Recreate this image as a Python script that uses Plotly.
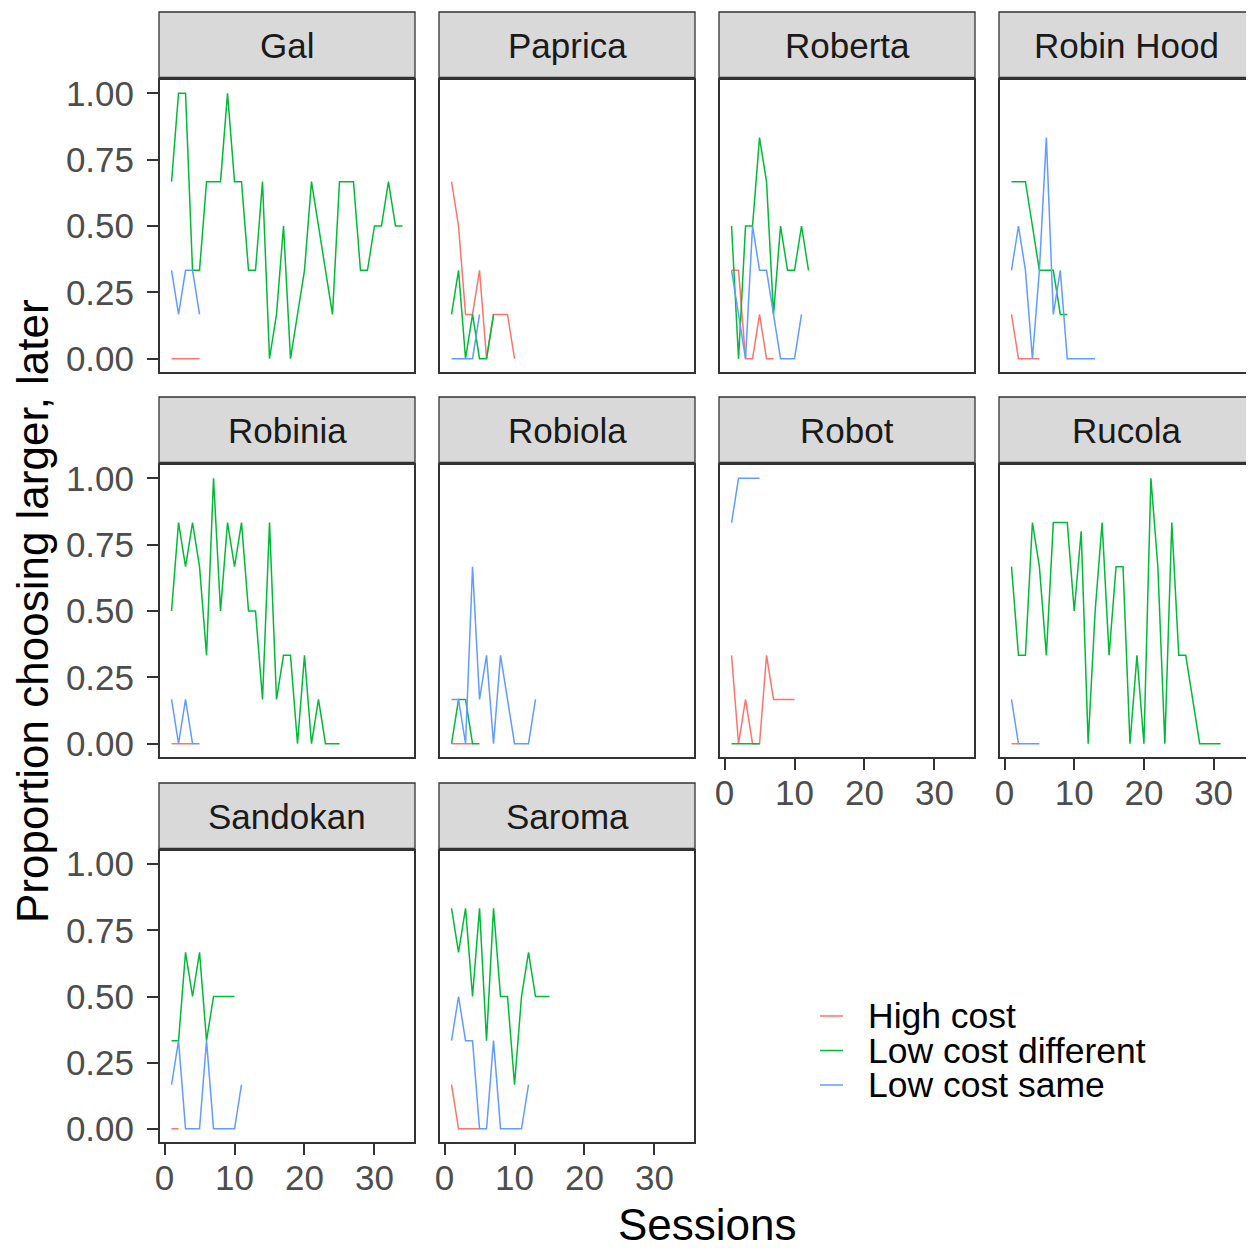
import plotly.graph_objects as go

# ---------------- data ----------------
SESSIONS = [1, 2, 3, 4, 5, 6, 7, 8, 9, 10, 11, 12, 13, 14, 15, 16, 17,
            18, 19, 20, 21, 22, 23, 24, 25, 26, 27, 28, 29, 30, 31, 32, 33, 34]

SUBJECTS = ["Gal", "Paprica", "Roberta", "Robin Hood", "Robinia",
            "Robiola", "Robot", "Rucola", "Sandokan", "Saroma"]
CONDITIONS = ["High cost", "Low cost different", "Low cost same"]
COLORS = ["#F8766D", "#00BA38", "#619CFF"]
X_TICKS = [0, 10, 20, 30]
Y_TICKS = [0.0, 0.25, 0.5, 0.75, 1.0]
Y_TICK_TEXT = ["0.00", "0.25", "0.50", "0.75", "1.00"]

gal_high = [0, 0, 0, 0, 0]
gal_diff = [0.667, 1, 1, 0.333, 0.333, 0.667, 0.667, 0.667, 1, 0.667, 0.667,
            0.333, 0.333, 0.667, 0, 0.167, 0.5, 0, 0.167, 0.333, 0.667, 0.5,
            0.333, 0.167, 0.667, 0.667, 0.667, 0.333, 0.333, 0.5, 0.5, 0.667,
            0.5, 0.5]
gal_same = [0.333, 0.167, 0.333, 0.333, 0.167]

paprica_high = [0.667, 0.5, 0.167, 0.167, 0.333, 0, 0.167, 0.167, 0.167, 0]
paprica_diff = [0.167, 0.333, 0, 0.167, 0, 0, 0.167]
paprica_same = [0, 0, 0, 0, 0.167]

roberta_high = [0.333, 0.333, 0, 0, 0.167, 0, 0]
roberta_diff = [0.5, 0, 0.5, 0.5, 0.833, 0.667, 0.167, 0.5, 0.333, 0.333,
                0.5, 0.333]
roberta_same = [0.333, 0.167, 0, 0.5, 0.333, 0.333, 0.167, 0, 0, 0, 0.167]

robinhood_high = [0.167, 0, 0, 0, 0]
robinhood_diff = [0.667, 0.667, 0.667, 0.5, 0.333, 0.333, 0.333, 0.167, 0.167]
robinhood_same = [0.333, 0.5, 0.333, 0, 0.333, 0.833, 0.167, 0.333, 0, 0, 0,
                  0, 0]

robinia_high = [0, 0, 0, 0]
robinia_diff = [0.5, 0.833, 0.667, 0.833, 0.667, 0.333, 1, 0.5, 0.833, 0.667,
                0.833, 0.5, 0.5, 0.167, 0.833, 0.167, 0.333, 0.333, 0, 0.333,
                0, 0.167, 0, 0, 0]
robinia_same = [0.167, 0, 0.167, 0, 0]

robiola_high = [0, 0, 0, 0]
robiola_diff = [0, 0.167, 0.167, 0, 0]
robiola_same = [0.167, 0.167, 0, 0.667, 0.167, 0.333, 0, 0.333, 0.167, 0, 0,
                0, 0.167]

robot_high = [0.333, 0, 0.167, 0, 0, 0.333, 0.167, 0.167, 0.167, 0.167]
robot_diff = [0, 0, 0, 0, 0]
robot_same = [0.833, 1, 1, 1, 1]

rucola_high = [0, 0]
rucola_diff = [0.667, 0.333, 0.333, 0.833, 0.667, 0.333, 0.833, 0.833, 0.833,
               0.5, 0.8, 0, 0.5, 0.833, 0.333, 0.667, 0.667, 0, 0.333, 0, 1,
               0.667, 0, 0.833, 0.333, 0.333, 0.167, 0, 0, 0, 0]
rucola_same = [0.167, 0, 0, 0, 0]

sandokan_high = [0, 0]
sandokan_diff = [0.333, 0.333, 0.667, 0.5, 0.667, 0.333, 0.5, 0.5, 0.5, 0.5]
sandokan_same = [0.167, 0.333, 0, 0, 0, 0.333, 0, 0, 0, 0, 0.167]

saroma_high = [0.167, 0, 0, 0, 0]
saroma_diff = [0.833, 0.667, 0.833, 0.5, 0.833, 0.333, 0.833, 0.5, 0.5, 0.167,
               0.5, 0.667, 0.5, 0.5, 0.5]
saroma_same = [0.333, 0.5, 0.333, 0.333, 0, 0, 0.333, 0, 0, 0, 0, 0.167]

SERIES = {
    "Gal": [gal_high, gal_diff, gal_same],
    "Paprica": [paprica_high, paprica_diff, paprica_same],
    "Roberta": [roberta_high, roberta_diff, roberta_same],
    "Robin Hood": [robinhood_high, robinhood_diff, robinhood_same],
    "Robinia": [robinia_high, robinia_diff, robinia_same],
    "Robiola": [robiola_high, robiola_diff, robiola_same],
    "Robot": [robot_high, robot_diff, robot_same],
    "Rucola": [rucola_high, rucola_diff, rucola_same],
    "Sandokan": [sandokan_high, sandokan_diff, sandokan_same],
    "Saroma": [saroma_high, saroma_diff, saroma_same],
}

# ---------------- layout geometry (page pixels) ----------------
OFF = 8                      # default body margin of the html page
FW, FH = 1254 - OFF, 1248 - 2 * OFF
COL_X = [(160, 414), (440, 694), (720, 974), (1000, 1253)]
ROW_Y = [(80, 372), (465, 757), (851, 1142)]
STRIP_H = 67
FONT = "Liberation Sans, Arial, Helvetica, sans-serif"
DARK = "#333333"


def px(x):
    return (x - OFF) / FW


def py(y):
    return 1 - (y - OFF) / FH


fig = go.Figure()
shapes = []
annotations = []

for i, subj in enumerate(SUBJECTS):
    r, c = divmod(i, 4)
    xa = "x" if i == 0 else f"x{i + 1}"
    ya = "y" if i == 0 else f"y{i + 1}"
    for k, cond in enumerate(CONDITIONS):
        vals = SERIES[subj][k]
        fig.add_trace(go.Scatter(
            x=SESSIONS[:len(vals)], y=vals, mode="lines",
            line=dict(color=COLORS[k], width=1.5),
            name=cond, legendgroup=cond, showlegend=False,
            xaxis=xa, yaxis=ya,
        ))

    x0, x1 = COL_X[c]
    y0, y1 = ROW_Y[r]
    show_x = (r == 2) or (r == 1 and c >= 2)
    show_y = (c == 0)
    xkey = "xaxis" if i == 0 else f"xaxis{i + 1}"
    ykey = "yaxis" if i == 0 else f"yaxis{i + 1}"
    fig.layout[xkey] = dict(
        domain=[px(x0), px(x1)], anchor=ya, range=[-0.65, 35.65],
        automargin=False,
        showgrid=False, zeroline=False, showline=True, mirror=True,
        linecolor=DARK, linewidth=2,
        ticks="outside" if show_x else "", ticklen=11, tickwidth=2,
        tickcolor=DARK, tickvals=X_TICKS, showticklabels=show_x,
        tickfont=dict(size=35, color="#4D4D4D", family=FONT),
        ticklabelstandoff=-7,
    )
    fig.layout[ykey] = dict(
        domain=[py(y1), py(y0)], anchor=xa, range=[-0.05, 1.05],
        automargin=False,
        showgrid=False, zeroline=False, showline=True, mirror=True,
        linecolor=DARK, linewidth=2,
        ticks="outside" if show_y else "", ticklen=11, tickwidth=2,
        tickcolor=DARK, tickvals=Y_TICKS, ticktext=Y_TICK_TEXT,
        showticklabels=show_y,
        tickfont=dict(size=35, color="#4D4D4D", family=FONT),
        ticklabelstandoff=6,
    )
    # facet strip
    st0 = y0 - STRIP_H - 1
    shapes.append(dict(type="rect", xref="paper", yref="paper",
                       x0=px(x0 - 1), x1=px(x1 + 1), y0=py(y0 - 1), y1=py(st0),
                       fillcolor="#D9D9D9", line=dict(color=DARK, width=1.3),
                       layer="below"))
    shapes.append(dict(type="line", xref="paper", yref="paper",
                       x0=px(x0 - 1), x1=px(x1 + 1), y0=py(y0 - 2), y1=py(y0 - 2),
                       line=dict(color=DARK, width=2.5)))
    annotations.append(dict(text=subj, xref="paper", yref="paper",
                            x=px((x0 + x1) / 2), y=py(st0 + STRIP_H / 2),
                            xanchor="center", yanchor="middle", showarrow=False,
                            font=dict(size=35, color="#1A1A1A", family=FONT)))

# legend (manual, ggplot-like compact spacing)
LEG_X0, LEG_Y0, LEG_DY = 820, 1016, 34.5
for k, cond in enumerate(CONDITIONS):
    yk = LEG_Y0 + k * LEG_DY
    shapes.append(dict(type="line", xref="paper", yref="paper",
                       x0=px(LEG_X0), x1=px(LEG_X0 + 23), y0=py(yk), y1=py(yk),
                       line=dict(color=COLORS[k], width=1.5)))
    annotations.append(dict(text=cond, xref="paper", yref="paper",
                            x=px(LEG_X0 + 46), y=py(yk), xanchor="left",
                            yanchor="middle", showarrow=False,
                            font=dict(size=35.5, color="#000000", family=FONT)))

# axis titles
annotations.append(dict(text="Sessions", xref="paper", yref="paper",
                        x=px(707), y=py(1224), xanchor="center", yanchor="middle",
                        showarrow=False,
                        font=dict(size=44, color="#000000", family=FONT)))
annotations.append(dict(text="Proportion choosing larger, later", xref="paper",
                        yref="paper", x=px(32), y=py(611), xanchor="center",
                        yanchor="middle", textangle=-90, showarrow=False,
                        font=dict(size=44, color="#000000", family=FONT)))

fig.update_layout(
    width=FW, height=FH, margin=dict(l=0, r=0, t=0, b=0, autoexpand=False),
    paper_bgcolor="white", plot_bgcolor="white",
    showlegend=False, shapes=shapes, annotations=annotations,
    font=dict(family=FONT),
)

fig.write_html("out.html")
